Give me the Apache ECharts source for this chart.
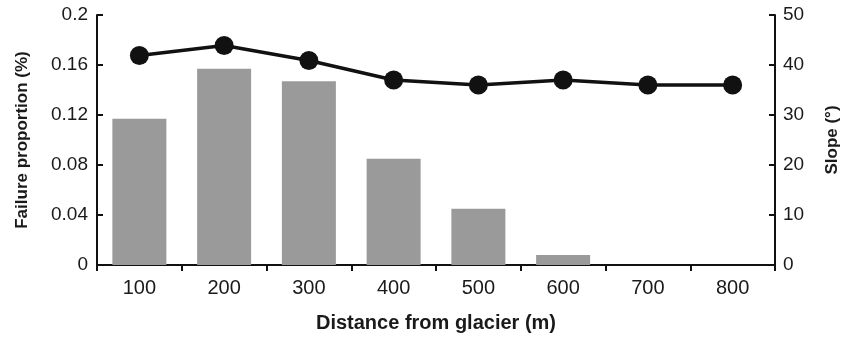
<!DOCTYPE html>
<html>
<head>
<meta charset="utf-8">
<script src="https://cdn.jsdelivr.net/npm/echarts@6/dist/echarts.min.js"></script>
<style>
  html, body { margin: 0; padding: 0; background: #fff; }
  #chart { width: 849px; height: 338px; }
</style>
</head>
<body>
<div id="chart"></div>
<script>
const distances = ["100", "200", "300", "400", "500", "600", "700", "800"];
const failureProportion = [0.117, 0.157, 0.147, 0.085, 0.045, 0.008, 0, 0];
const slopeDeg = [41.9, 43.9, 40.9, 37.0, 36.0, 37.0, 36.0, 36.0];

const textColor = "#1a1a1a";
const lineColor = "#111";
const fontFamily = "'Liberation Sans', Arial, sans-serif";

const chart = echarts.init(document.getElementById("chart"));
chart.setOption({
  animation: false,
  textStyle: { fontFamily },
  grid: { left: 97, right: 73, top: 15, bottom: 70 },
  xAxis: {
    type: "category",
    data: distances,
    boundaryGap: true,
    name: "Distance from glacier (m)",
    nameLocation: "middle",
    nameGap: 48,
    nameTextStyle: { fontSize: 20, fontWeight: "bold", color: textColor, fontFamily },
    axisLine: { lineStyle: { color: lineColor, width: 2 } },
    axisTick: { show: true, alignWithLabel: false, length: 6, lineStyle: { color: lineColor, width: 2 } },
    axisLabel: { fontSize: 20, color: textColor, margin: 13, fontFamily },
  },
  yAxis: [
    {
      type: "value",
      min: 0,
      max: 0.2,
      interval: 0.04,
      name: "Failure proportion (%)",
      nameLocation: "middle",
      nameGap: 66,
      nameRotate: 90,
      nameTextStyle: { fontSize: 17, fontWeight: "bold", color: textColor, fontFamily },
      axisLine: { show: true, lineStyle: { color: lineColor, width: 2 } },
      axisTick: { show: true, inside: true, length: 6, lineStyle: { color: lineColor, width: 2 } },
      axisLabel: {
        fontSize: 19, color: textColor, margin: 9, fontFamily,
        formatter: (v) => (v === 0 ? "0" : String(Number(v.toFixed(2)))),
      },
      splitLine: { show: false },
    },
    {
      type: "value",
      min: 0,
      max: 50,
      interval: 10,
      position: "right",
      name: "Slope (°)",
      nameLocation: "middle",
      nameGap: 49,
      nameRotate: 90,
      nameTextStyle: { fontSize: 17, fontWeight: "bold", color: textColor, fontFamily },
      axisLine: { show: true, lineStyle: { color: lineColor, width: 2 } },
      axisTick: { show: true, inside: true, length: 6, lineStyle: { color: lineColor, width: 2 } },
      axisLabel: { fontSize: 19, color: textColor, margin: 8, fontFamily },
      splitLine: { show: false },
    },
  ],
  series: [
    {
      name: "Failure proportion",
      type: "bar",
      yAxisIndex: 0,
      data: failureProportion,
      barWidth: 54,
      itemStyle: { color: "#999a99" },
      z: 2,
    },
    {
      name: "Slope",
      type: "line",
      yAxisIndex: 1,
      data: slopeDeg,
      symbol: "circle",
      symbolSize: 19,
      lineStyle: { color: lineColor, width: 3.5 },
      itemStyle: { color: lineColor },
      z: 3,
    },
  ],
});
</script>
</body>
</html>
